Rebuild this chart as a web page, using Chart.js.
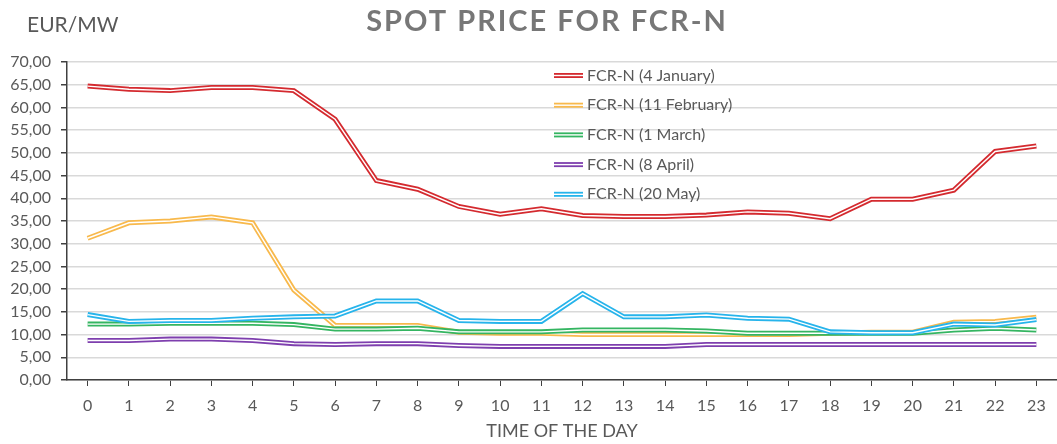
<!DOCTYPE html>
<html>
<head>
<meta charset="utf-8">
<script src="https://cdn.jsdelivr.net/npm/chart.js@4.4.1/dist/chart.umd.min.js"></script>
<style>
  html, body { margin: 0; padding: 0; background: #fff; }
  #wrap { width: 1057px; height: 444px; }
</style>
</head>
<body>
<div id="wrap"><canvas id="spotChart"></canvas></div>
<script>
// hours of the day
var hours = ['0','1','2','3','4','5','6','7','8','9','10','11','12','13','14','15','16','17','18','19','20','21','22','23'];

var jan4 = [64.7, 64.0, 63.7, 64.4, 64.4, 63.7, 57.4, 43.9, 42.0, 38.2, 36.5, 37.7, 36.2, 36.0, 36.0, 36.3, 37.0, 36.7, 35.5, 39.8, 39.8, 41.8, 50.3, 51.5];
var feb11 = [31.2, 34.6, 35.0, 35.9, 34.6, 19.8, 12.0, 12.0, 12.0, 10.5, 10.3, 10.3, 10.0, 10.0, 10.0, 10.0, 10.0, 10.0, 10.3, 10.5, 10.5, 12.7, 12.9, 13.8];
var mar1 = [12.3, 12.3, 12.5, 12.5, 12.5, 12.2, 11.2, 11.2, 11.4, 10.6, 10.6, 10.6, 11.0, 11.0, 11.0, 10.8, 10.3, 10.3, 10.3, 10.3, 10.3, 11.0, 11.4, 11.0];
var apr8 = [8.7, 8.7, 9.0, 9.0, 8.7, 8.0, 7.8, 8.0, 8.0, 7.6, 7.4, 7.4, 7.4, 7.4, 7.4, 7.8, 7.8, 7.8, 7.8, 7.8, 7.8, 7.8, 7.8, 7.8];
var may20 = [14.4, 12.9, 13.1, 13.1, 13.6, 13.9, 14.1, 17.4, 17.4, 13.1, 12.9, 12.9, 19.0, 13.9, 13.9, 14.3, 13.6, 13.4, 10.6, 10.4, 10.4, 12.3, 12.1, 13.3];

var seriesNames = ['FCR-N (4 January)', 'FCR-N (11 February)', 'FCR-N (1 March)', 'FCR-N (8 April)', 'FCR-N (20 May)'];
var seriesData = [jan4, feb11, mar1, apr8, may20];
var seriesColors = ['#d42a2f', '#f8b94c', '#34b561', '#7e3fae', '#27b4eb'];

var textGrey = '#595959';
var fontFamily = 'Lato, "Open Sans", sans-serif';

var datasets = seriesData.map(function (d, i) {
  return {
    label: seriesNames[i],
    data: d,
    borderColor: seriesColors[i],
    backgroundColor: seriesColors[i],
    borderWidth: 5,
    tension: 0,
    fill: false,
    pointRadius: 0,
    order: seriesData.length - i
  };
});

// thin white stroke through every line to get the double-line look
var doubleLine = {
  id: 'doubleLine',
  afterDatasetDraw: function (chart, args) {
    var pts = args.meta.data;
    var ctx = chart.ctx;
    ctx.save();
    ctx.beginPath();
    pts.forEach(function (p, k) {
      if (k === 0) ctx.moveTo(p.x, p.y); else ctx.lineTo(p.x, p.y);
    });
    ctx.strokeStyle = '#ffffff';
    ctx.lineWidth = 1.4;
    ctx.stroke();
    ctx.restore();
  }
};

// title, unit label and the in-plot legend
var decorations = {
  id: 'decorations',
  afterDraw: function (chart) {
    var ctx = chart.ctx;
    ctx.save();
    ctx.fillStyle = '#777777';
    ctx.font = 'bold 29px ' + fontFamily;
    ctx.letterSpacing = '2px';
    ctx.textAlign = 'center';
    ctx.textBaseline = 'middle';
    ctx.fillText('SPOT PRICE FOR FCR-N', 547, 22);
    ctx.letterSpacing = '0px';

    ctx.fillStyle = textGrey;
    ctx.font = '21px ' + fontFamily;
    ctx.textAlign = 'left';
    ctx.fillText('EUR/MW', 27, 25);

    ctx.font = '16px ' + fontFamily;
    for (var i = 0; i < seriesNames.length; i++) {
      var y = 75.5 + i * 29.7;
      ctx.beginPath();
      ctx.moveTo(554, y);
      ctx.lineTo(583, y);
      ctx.strokeStyle = seriesColors[i];
      ctx.lineWidth = 5;
      ctx.stroke();
      ctx.beginPath();
      ctx.moveTo(554, y);
      ctx.lineTo(583, y);
      ctx.strokeStyle = '#fff';
      ctx.lineWidth = 1.4;
      ctx.stroke();
      ctx.fillStyle = textGrey;
      ctx.fillText(seriesNames[i], 587, y);
    }
    ctx.restore();
  }
};

new Chart(document.getElementById('spotChart'), {
  type: 'line',
  data: { labels: hours, datasets: datasets },
  plugins: [doubleLine, decorations],
  options: {
    responsive: true,
    maintainAspectRatio: false,
    animation: false,
    events: [],
    layout: { padding: { top: 62, right: 0, bottom: 2, left: 0 } },
    plugins: {
      legend: { display: false },
      tooltip: { enabled: false },
      title: { display: false }
    },
    scales: {
      x: {
        offset: true,
        afterFit: function (scale) { scale.height = 62; },
        grid: {
          display: true,
          drawOnChartArea: false,
          tickLength: 6,
          tickColor: '#404040',
          offset: false
        },
        border: { color: '#404040', width: 1.5 },
        ticks: { color: textGrey, font: { family: fontFamily, size: 16 }, padding: 10, maxRotation: 0 },
        title: {
          display: true,
          text: 'TIME OF THE DAY',
          color: textGrey,
          font: { family: fontFamily, size: 18 },
          padding: { top: 2, bottom: 0 }
        }
      },
      y: {
        min: 0,
        max: 70,
        afterFit: function (scale) { scale.width = 67; },
        grid: {
          color: '#d9d9d9',
          lineWidth: 1.5,
          tickLength: 6,
          tickColor: '#404040'
        },
        border: { color: '#404040', width: 1.5 },
        ticks: {
          stepSize: 5,
          color: textGrey,
          font: { family: fontFamily, size: 16 },
          padding: 10,
          callback: function (v) { return v.toFixed(2).replace('.', ','); }
        }
      }
    }
  }
});
</script>
</body>
</html>
